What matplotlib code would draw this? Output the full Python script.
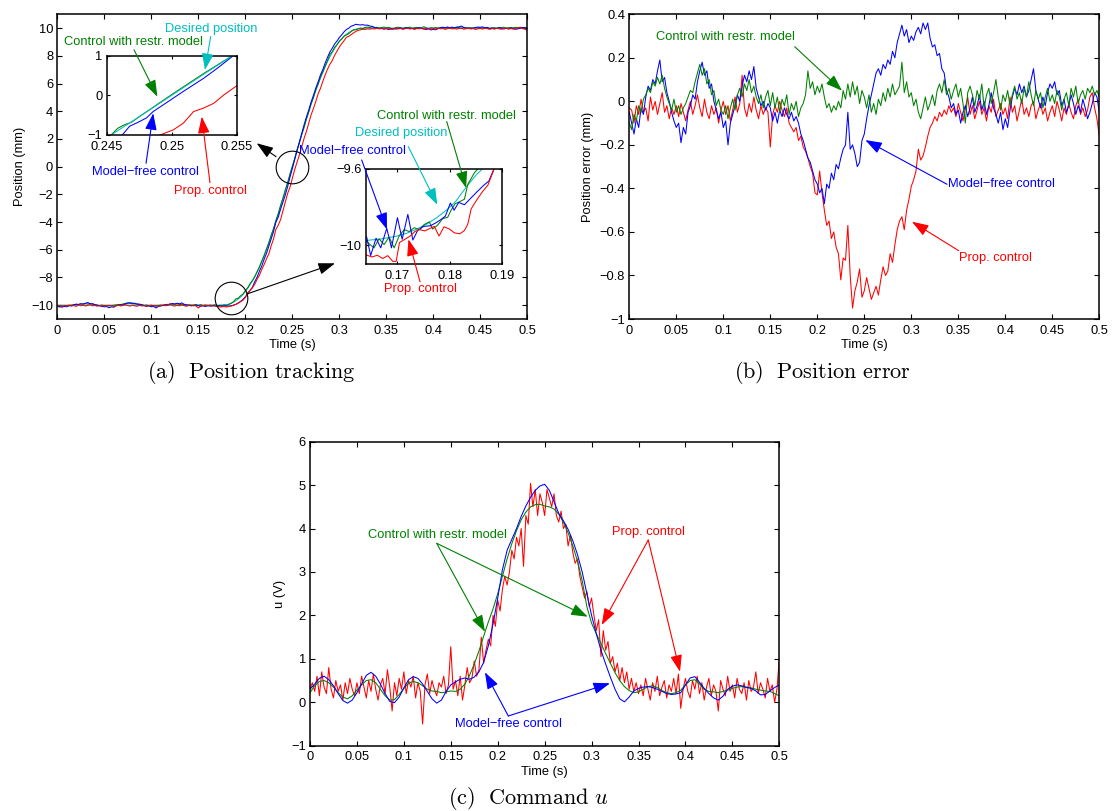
import numpy as np
import matplotlib
matplotlib.use('Agg')
import matplotlib.pyplot as plt
from matplotlib.ticker import FuncFormatter

plt.rcParams['font.family'] = ['Liberation Sans', 'DejaVu Sans']
plt.rcParams['mathtext.fontset'] = 'cm'

BLUE = (0, 0, 1)
GREEN = (0, 0.5, 0)
RED = (1, 0, 0)
CYAN = (0, 0.75, 0.75)
FS = 9.3
MINUS = '\u2212'

# ---- position error (mm), sampled every 2.5 ms from 0 to 0.5 s ----
err_free = [
    -0.05, -0.10, -0.15, -0.08, -0.12, -0.03, -0.06, 0.02, 0.07, 0.05, 0.10, 0.08, 0.14, 0.19, 0.09, 0.11, 0.04, 0.00, -0.05, -0.09,
    -0.12, -0.10, -0.19, -0.12, -0.15, -0.05, -0.02, 0.03, 0.01, 0.09, 0.14, 0.18, 0.12, 0.14, 0.06, 0.08, 0.00, -0.04, -0.08, -0.05,
    -0.12, -0.09, -0.20, -0.10, -0.06, -0.02, 0.03, 0.00, 0.07, 0.12, 0.09, 0.14, 0.10, 0.16, 0.06, 0.02, -0.02, 0.00, -0.04, -0.01,
    -0.03, -0.09, -0.05, -0.10, -0.04, -0.07, -0.03, -0.06, -0.08, -0.05, -0.09, -0.07, -0.10, -0.15, -0.18, -0.22, -0.26, -0.28, -0.32, -0.36,
    -0.38, -0.42, -0.40, -0.47, -0.38, -0.40, -0.33, -0.36, -0.29, -0.31, -0.26, -0.22, -0.20, -0.05, -0.22, -0.20, -0.24, -0.30, -0.28, -0.18,
    -0.15, -0.08, -0.02, 0.03, 0.08, 0.13, 0.15, 0.12, 0.17, 0.15, 0.19, 0.17, 0.23, 0.20, 0.27, 0.31, 0.35, 0.30, 0.33, 0.27,
    0.30, 0.28, 0.32, 0.34, 0.31, 0.36, 0.33, 0.36, 0.29, 0.25, 0.26, 0.21, 0.22, 0.15, 0.13, 0.05, 0.02, -0.03, -0.01, -0.06,
    -0.04, -0.10, -0.05, -0.02, -0.07, -0.03, 0.02, -0.05, -0.02, 0.03, -0.04, 0.00, -0.06, -0.02, 0.04, -0.03, -0.06, -0.10, -0.05, -0.13,
    -0.08, -0.12, -0.04, 0.02, 0.06, 0.03, 0.08, 0.04, 0.07, 0.02, 0.05, 0.10, 0.15, 0.05, 0.01, -0.03, 0.02, -0.02, 0.04, 0.08,
    0.06, 0.09, 0.03, 0.05, -0.02, 0.01, -0.05, -0.02, 0.03, -0.01, -0.06, -0.02, -0.05, 0.01, -0.03, -0.08, -0.05, -0.01, 0.04, 0.02,
    -0.05]
err_prop = [
    -0.03, -0.04, -0.10, -0.02, -0.06, 0.01, -0.05, -0.03, -0.09, 0.02, -0.04, 0.00, -0.06, -0.01, 0.04, -0.05, -0.02, -0.08, -0.03, -0.06,
    -0.02, -0.07, -0.01, -0.05, -0.09, -0.04, 0.00, -0.06, -0.02, 0.03, -0.03, -0.07, 0.01, -0.05, -0.08, -0.02, -0.06, -0.03, -0.10, -0.04,
    0.00, -0.06, -0.02, -0.09, -0.04, 0.02, -0.05, -0.01, 0.12, -0.03, -0.07, -0.01, -0.05, 0.02, -0.04, -0.08, -0.02, -0.06, -0.03, -0.05,
    -0.21, -0.06, -0.02, -0.05, 0.00, -0.04, -0.07, -0.03, -0.10, -0.12, -0.14, -0.12, -0.18, -0.16, -0.21, -0.23, -0.26, -0.30, -0.33, -0.42,
    -0.43, -0.32, -0.42, -0.50, -0.57, -0.55, -0.63, -0.60, -0.67, -0.70, -0.82, -0.72, -0.73, -0.57, -0.80, -0.95, -0.87, -0.83, -0.77, -0.90,
    -0.87, -0.81, -0.86, -0.91, -0.88, -0.85, -0.89, -0.82, -0.76, -0.80, -0.78, -0.70, -0.74, -0.66, -0.59, -0.55, -0.53, -0.59, -0.50, -0.45,
    -0.39, -0.36, -0.32, -0.22, -0.27, -0.25, -0.21, -0.16, -0.12, -0.10, -0.07, -0.09, -0.05, -0.07, -0.04, -0.06, -0.02, -0.05, -0.03, -0.07,
    -0.01, -0.05, -0.09, -0.03, 0.02, -0.06, -0.02, -0.08, -0.04, 0.00, -0.06, -0.03, -0.09, -0.02, -0.05, 0.01, -0.07, -0.04, -0.01, -0.06,
    -0.03, -0.08, 0.02, -0.05, -0.02, -0.09, -0.04, 0.01, -0.06, -0.03, -0.07, -0.02, 0.00, -0.08, -0.04, -0.01, -0.06, -0.03, -0.09, -0.05,
    -0.02, -0.07, 0.00, -0.04, -0.09, -0.03, -0.06, -0.01, -0.05, -0.08, -0.02, 0.01, -0.06, -0.03, -0.07, -0.04, 0.02, 0.04, -0.03, -0.08,
    -0.16]
err_restr = [
    -0.10, -0.13, -0.06, -0.09, -0.02, -0.05, 0.01, 0.03, 0.06, 0.04, 0.09, 0.07, 0.11, 0.08, 0.12, 0.06, 0.02, -0.01, -0.04, 0.01,
    -0.05, -0.02, -0.06, -0.03, -0.01, 0.02, 0.05, 0.04, 0.09, 0.13, 0.17, 0.12, 0.15, 0.08, 0.10, 0.03, 0.05, -0.02, 0.01, -0.04,
    -0.06, -0.02, -0.08, -0.03, 0.01, -0.04, 0.03, 0.06, 0.02, 0.08, 0.05, 0.10, 0.04, 0.07, 0.02, -0.01, 0.03, -0.03, 0.02, 0.05,
    -0.02, 0.04, -0.03, 0.02, -0.05, 0.01, -0.02, 0.03, -0.06, -0.01, -0.04, 0.00, -0.07, -0.03, -0.01, 0.03, 0.14, 0.06, 0.09, 0.03,
    0.07, 0.04, 0.08, 0.02, -0.03, -0.01, -0.05, -0.02, -0.04, 0.00, -0.03, 0.05, 0.01, 0.08, 0.02, 0.09, 0.03, 0.07, -0.01, 0.05,
    0.02, -0.03, 0.03, -0.05, -0.01, -0.06, 0.01, -0.02, 0.04, 0.00, 0.06, 0.02, 0.08, 0.03, 0.05, 0.07, 0.18, 0.04, 0.09, 0.02,
    0.04, -0.02, 0.01, -0.05, -0.08, -0.03, 0.02, -0.04, -0.01, 0.03, -0.02, 0.05, 0.08, 0.04, 0.10, 0.03, 0.06, 0.01, 0.05, 0.08,
    0.02, 0.06, -0.01, -0.10, 0.04, 0.07, 0.03, -0.02, 0.05, 0.01, 0.08, -0.03, 0.03, 0.06, -0.01, 0.04, 0.10, 0.02, -0.04, 0.03,
    0.00, 0.05, -0.02, 0.03, 0.07, 0.01, 0.04, -0.01, 0.06, 0.02, 0.09, 0.03, -0.02, 0.05, 0.01, 0.04, -0.03, 0.02, 0.06, 0.00,
    0.03, -0.01, 0.05, 0.02, -0.04, 0.01, 0.04, -0.02, 0.06, 0.02, 0.07, -0.01, 0.03, 0.05, 0.01, 0.06, 0.04, 0.07, 0.03, 0.05,
    0.02]

# desired position (mm) on the same 2.5 ms grid
desired = ([-10.0] * 69 +
           [-10.0, -9.99, -9.98, -9.96, -9.92, -9.86, -9.78, -9.68, -9.56, -9.41,
            -9.23, -9.02, -8.79, -8.53, -8.25, -7.93, -7.59, -7.22, -6.82, -6.40,
            -5.96, -5.49, -5.00, -4.50, -3.97, -3.43, -2.88, -2.32, -1.75, -1.17,
            -0.59, 0.00, 0.59, 1.17, 1.75, 2.32, 2.88, 3.43, 3.97, 4.50,
            5.00, 5.49, 5.96, 6.40, 6.82, 7.22, 7.59, 7.93, 8.25, 8.53,
            8.79, 9.02, 9.23, 9.41, 9.56, 9.68, 9.78, 9.86, 9.92, 9.96,
            9.98, 9.99] +
           [10.0] * 70)

# ---- zoom windows of panel (a) ----
z1_t_des = [0.24534, 0.2475, 0.2500, 0.2525, 0.25467]
z1_v_des = [-1.00, -0.54, 0.00, 0.54, 1.00]
z1_t_restr = [0.24534, 0.24585, 0.24638, 0.2469, 0.2475, 0.2500, 0.2525, 0.25467]
z1_v_restr = [-1.00, -0.83, -0.74, -0.68, -0.54, 0.02, 0.56, 1.00]
z1_t_free = [0.2462, 0.24676, 0.24741, 0.24806, 0.24857, 0.24935, 0.2509, 0.25246, 0.2535, 0.25474]
z1_v_free = [-1.00, -0.78, -0.68, -0.57, -0.41, -0.24, 0.10, 0.43, 0.68, 1.00]
z1_t_prop = [0.2491, 0.25013, 0.2509, 0.25168, 0.25246, 0.25324, 0.25401, 0.2550]
z1_v_prop = [-1.00, -0.87, -0.70, -0.41, -0.32, -0.20, 0.01, 0.24]

z2_t_des = [0.1640, 0.1667, 0.1699, 0.1718, 0.1737, 0.1756, 0.1775, 0.1795, 0.1811, 0.1827, 0.1839, 0.1852, 0.1862]
z2_v_des = [-9.976, -9.969, -9.953, -9.938, -9.916, -9.890, -9.856, -9.813, -9.771, -9.711, -9.668, -9.626, -9.600]
z2_t_free = [0.16413, 0.16489, 0.16592, 0.16681, 0.16796, 0.16886, 0.17000, 0.17090, 0.17198, 0.17294,
             0.17384, 0.17499, 0.17626, 0.17722, 0.17818, 0.17914, 0.18010, 0.18080, 0.18169, 0.18278,
             0.18380, 0.18521, 0.18649, 0.18744, 0.18840]
z2_v_free = [-9.958, -10.056, -9.964, -10.015, -9.912, -10.015, -9.856, -9.970, -9.839, -9.974,
             -9.924, -9.902, -9.899, -9.885, -9.868, -9.848, -9.779, -9.817, -9.776, -9.788,
             -9.759, -9.719, -9.685, -9.663, -9.600]
z2_t_restr = [0.16400, 0.16477, 0.16553, 0.16649, 0.16745, 0.16841, 0.16937, 0.17032, 0.17128, 0.17224,
              0.17320, 0.17416, 0.17512, 0.17607, 0.17671, 0.17767, 0.17863, 0.17959, 0.18023, 0.18099,
              0.18189, 0.18278, 0.18342, 0.18406, 0.18470, 0.18534]
z2_v_restr = [-9.976, -9.998, -10.015, -9.967, -9.998, -9.958, -10.015, -9.953, -9.919, -9.929,
              -9.909, -9.919, -9.892, -9.878, -9.916, -9.895, -9.861, -9.854, -9.817, -9.783,
              -9.772, -9.759, -9.680, -9.650, -9.619, -9.600]
z2_t_prop = [0.16400, 0.16515, 0.16617, 0.16719, 0.16815, 0.16911, 0.16975, 0.17039, 0.17141, 0.17243,
             0.17333, 0.17422, 0.17524, 0.17626, 0.17703, 0.17793, 0.17888, 0.17991, 0.18086, 0.18189,
             0.18278, 0.18342, 0.18406, 0.18521, 0.18623, 0.18725, 0.18840]
z2_v_prop = [-10.052, -10.063, -10.054, -10.071, -10.056, -10.086, -10.086, -9.987, -9.970, -9.953,
             -9.929, -9.919, -9.926, -9.912, -9.902, -9.953, -9.904, -9.916, -9.936, -9.941,
             -9.924, -9.890, -9.810, -9.759, -9.719, -9.685, -9.603]

# ---- command u (V) ----
u_prop = [  # every 2.5 ms
    0.30, 0.45, 0.25, 0.60, 0.15, 0.70, 0.35, 0.20, 0.80, 0.30, 0.10, 0.50, 0.25, 0.40, 0.05, 0.45, 0.20, 0.55, 0.30, 0.15,
    0.45, 0.20, 0.60, 0.35, 0.10, 0.50, 0.25, 0.65, 0.30, 0.05, 0.40, 0.55, 0.20, 0.75, 0.35, -0.20, 0.45, 0.15, 0.55, 0.30,
    0.70, 0.20, 0.50, 0.35, 0.60, 0.10, 0.45, 0.25, -0.50, 0.40, 0.65, 0.20, 0.50, 0.30, 0.15, 0.45, 0.35, 0.60, 0.20, 0.40,
    1.28, 0.30, 0.50, 0.15, 0.60, 0.05, 0.40, 0.80, 0.45, 0.55, 0.95, 0.60, 0.75, 1.50, 0.90, 1.20, 1.45, 1.30, 2.00, 1.75,
    2.35, 2.10, 2.60, 2.90, 2.70, 3.00, 3.50, 3.30, 3.80, 3.60, 4.00, 3.13, 4.30, 4.10, 5.04, 4.50, 4.90, 4.30, 4.80, 4.60,
    4.30, 4.90, 4.70, 4.50, 4.80, 4.30, 4.15, 4.40, 4.00, 4.10, 3.60, 3.85, 3.45, 3.20, 3.30, 2.90, 2.65, 2.40, 2.55, 2.20,
    2.40, 2.00, 1.65, 1.90, 1.05, 1.65, 1.20, 1.40, 0.90, 1.05, 0.70, 0.90, 0.50, 0.80, 0.45, 0.70, 0.30, 0.55, 0.25, 0.45,
    0.20, 0.40, 0.15, 0.55, 0.30, 0.05, 0.45, 0.25, 0.60, 0.15, 0.35, 0.50, 0.10, 0.40, 0.25, 0.55, 0.20, 0.65, -0.14, 0.30,
    0.55, 0.25, 0.10, 0.50, 0.30, 0.60, 0.20, 0.45, 0.05, 0.35, 0.55, 0.15, 0.40, 0.25, -0.20, 0.50, 0.30, 0.15, 0.60, 0.25,
    0.40, 0.10, 0.55, 0.30, 0.20, 0.45, 0.05, 0.50, 0.25, 0.35, 0.70, 0.20, 0.45, 0.30, 0.10, 0.55, 0.25, 0.40, 0.00, 0.30,
    1.00]
u_free = [  # every 5 ms
    0.30, 0.42, 0.55, 0.60, 0.52, 0.38, 0.20, 0.04, -0.02, 0.05,
    0.22, 0.42, 0.62, 0.69, 0.60, 0.42, 0.20, 0.02, -0.01, 0.12,
    0.33, 0.52, 0.59, 0.55, 0.42, 0.25, 0.08, -0.02, 0.05, 0.25,
    0.40, 0.47, 0.53, 0.56, 0.53, 0.58, 0.70, 0.92, 1.30, 1.80,
    2.40, 3.05, 3.50, 3.75, 4.00, 4.28, 4.52, 4.72, 4.88, 4.98,
    5.02, 4.88, 4.62, 4.35, 4.18, 3.98, 3.72, 3.40, 3.00, 2.50,
    2.00, 1.58, 1.20, 0.88, 0.58, 0.30, 0.08, 0.01, 0.12, 0.26,
    0.32, 0.35, 0.36, 0.34, 0.30, 0.25, 0.20, 0.18, 0.19, 0.22,
    0.40, 0.56, 0.59, 0.46, 0.32, 0.20, 0.10, 0.05, 0.14, 0.30,
    0.37, 0.40, 0.38, 0.34, 0.32, 0.26, 0.17, 0.18, 0.26, 0.34,
    0.40]
u_restr = [  # every 5 ms
    0.22, 0.38, 0.48, 0.50, 0.45, 0.35, 0.22, 0.12, 0.08, 0.15,
    0.28, 0.40, 0.50, 0.52, 0.45, 0.30, 0.15, 0.05, 0.06, 0.18,
    0.32, 0.44, 0.48, 0.45, 0.38, 0.30, 0.26, 0.25, 0.22, 0.24,
    0.26, 0.25, 0.30, 0.42, 0.62, 0.88, 1.18, 1.52, 1.85, 2.15,
    2.50, 2.90, 3.30, 3.65, 3.95, 4.20, 4.38, 4.50, 4.55, 4.56,
    4.52, 4.50, 4.45, 4.33, 4.15, 3.90, 3.60, 3.25, 2.80, 2.20,
    1.82, 1.58, 1.36, 1.12, 0.90, 0.68, 0.50, 0.36, 0.27, 0.22,
    0.24, 0.30, 0.36, 0.38, 0.34, 0.27, 0.22, 0.20, 0.22, 0.28,
    0.40, 0.50, 0.52, 0.42, 0.30, 0.25, 0.24, 0.22, 0.25, 0.28,
    0.32, 0.35, 0.36, 0.35, 0.33, 0.30, 0.28, 0.26, 0.25, 0.20,
    0.15]

t_fine = np.linspace(0, 0.5, len(err_free))
t_coarse = np.linspace(0, 0.5, len(u_free))
des = np.array(desired)
pos_free = des + np.array(err_free)
pos_prop = des + np.array(err_prop)
pos_restr = des + np.array(err_restr)

W, H = 1116, 811
fig = plt.figure(figsize=(W / 100, H / 100), dpi=100)


def axes_px(x0, y0, x1, y1):
    return fig.add_axes([x0 / W, 1 - y1 / H, (x1 - x0) / W, (y1 - y0) / H])


def tick_fmt(v, pos):
    s = '%g' % round(v, 6)
    if s == '-0':
        s = '0'
    return s.replace('-', MINUS)


def style(ax, xt, yt, length=3.5):
    ax.set_xticks(xt)
    ax.set_yticks(yt)
    ax.xaxis.set_major_formatter(FuncFormatter(tick_fmt))
    ax.yaxis.set_major_formatter(FuncFormatter(tick_fmt))
    ax.tick_params(direction='in', top=True, right=True, length=length, width=0.8,
                   labelsize=FS, colors='black')
    ax.tick_params(axis='x', pad=4)
    ax.tick_params(axis='y', pad=3)
    for s in ax.spines.values():
        s.set_linewidth(1.1)


AP = dict(arrowstyle='-|>,head_length=0.85,head_width=0.3', lw=0.8,
          shrinkA=0, shrinkB=0, mutation_scale=12)


def arrow(ax, tail, head, color, head_ax=None):
    tgt = head_ax if head_ax is not None else ax
    ax.annotate('', xy=head, xycoords=tgt.transData, xytext=tail, textcoords='data',
                arrowprops=dict(AP, color=color), zorder=6, annotation_clip=False)


def label(ax, xy, s, color):
    ax.text(xy[0], xy[1], s, color=color, fontsize=FS, ha='center', va='center', zorder=6)


xt = np.arange(0, 0.501, 0.05)
LW = 0.75

# ---------------- (a) position tracking ----------------
ax_a = axes_px(57.3, 14.3, 527.3, 319)
ax_a.plot(t_fine, des, color=CYAN, lw=LW)
ax_a.plot(t_fine, pos_restr, color=GREEN, lw=LW)
ax_a.plot(t_fine, pos_free, color=BLUE, lw=LW)
ax_a.plot(t_fine, pos_prop, color=RED, lw=LW)
ax_a.set_xlim(0, 0.5)
ax_a.set_ylim(-11, 11)
style(ax_a, xt, np.arange(-10, 10.1, 2))
ax_a.set_xlabel('Time (s)', fontsize=FS, labelpad=2)
ax_a.set_ylabel('Position (mm)', fontsize=FS, labelpad=4)
ax_a.plot([0.25], [0], 'o', ms=23.5, mfc='none', mec='black', mew=0.8)
ax_a.plot([0.1845], [-9.47], 'o', ms=23.5, mfc='none', mec='black', mew=0.8)
arrow(ax_a, (0.2327, 0.72), (0.2121, 1.69), 'black')
arrow(ax_a, (0.2015, -9.20), (0.2954, -6.98), 'black')

in1 = ax_a.inset_axes([0.1051, 0.6039, 0.2766, 0.2603])
in1.plot(z1_t_restr, z1_v_restr, color=GREEN, lw=LW)
in1.plot(z1_t_free, z1_v_free, color=BLUE, lw=LW)
in1.plot(z1_t_prop, z1_v_prop, color=RED, lw=LW)
in1.plot(z1_t_des, z1_v_des, color=CYAN, lw=LW)
in1.set_xlim(0.245, 0.255)
in1.set_ylim(-1, 1)
style(in1, [0.245, 0.25, 0.255], [-1, 0, 1], length=2.5)

in2 = ax_a.inset_axes([0.6568, 0.1805, 0.29, 0.3118])
in2.plot(z2_t_des, z2_v_des, color=CYAN, lw=LW)
in2.plot(z2_t_restr, z2_v_restr, color=GREEN, lw=LW)
in2.plot(z2_t_free, z2_v_free, color=BLUE, lw=LW)
in2.plot(z2_t_prop, z2_v_prop, color=RED, lw=LW)
in2.set_xlim(0.164, 0.19)
in2.set_ylim(-10.1, -9.6)
style(in2, [0.17, 0.18, 0.19], [-10, -9.6], length=2.5)

label(ax_a, (0.1633, 9.93), 'Desired position', CYAN)
arrow(ax_a, (0.1632, 9.40), (0.25256, 0.64), CYAN, in1)
label(ax_a, (0.0805, 8.97), 'Control with restr. model', GREEN)
arrow(ax_a, (0.0816, 8.44), (0.2489, -0.034), GREEN, in1)
label(ax_a, (0.0934, -0.36), 'Model' + MINUS + 'free control', BLUE)
arrow(ax_a, (0.0944, 0.246), (0.24858, -0.453), BLUE, in1)
label(ax_a, (0.1632, -1.735), 'Prop. control', RED)
arrow(ax_a, (0.1624, -1.157), (0.25231, -0.538), RED, in1)

label(ax_a, (0.4135, 3.69), 'Control with restr. model', GREEN)
arrow(ax_a, (0.4143, 3.254), (0.1831, -9.70), GREEN, in2)
label(ax_a, (0.3657, 2.46), 'Desired position', CYAN)
arrow(ax_a, (0.3734, 1.446), (0.1776, -9.788), CYAN, in2)
label(ax_a, (0.3143, 1.16), 'Model' + MINUS + 'free control', BLUE)
arrow(ax_a, (0.3238, 0.484), (0.1680, -9.918), BLUE, in2)
label(ax_a, (0.3859, -8.86), 'Prop. control', RED)
arrow(ax_a, (0.3859, -8.315), (0.1721, -9.97), RED, in2)

# ---------------- (b) position error ----------------
ax_b = axes_px(629.3, 14.3, 1099.3, 319)
ax_b.plot(t_fine, err_prop, color=RED, lw=LW)
ax_b.plot(t_fine, err_free, color=BLUE, lw=LW)
ax_b.plot(t_fine, err_restr, color=GREEN, lw=LW)
ax_b.set_xlim(0, 0.5)
ax_b.set_ylim(-1, 0.4)
style(ax_b, xt, np.arange(-1, 0.41, 0.2))
ax_b.set_xlabel('Time (s)', fontsize=FS, labelpad=2)
ax_b.set_ylabel('Position error (mm)', fontsize=FS, labelpad=4)
label(ax_b, (0.1021, 0.294), 'Control with restr. model', GREEN)
arrow(ax_b, (0.176, 0.251), (0.2263, 0.049), GREEN)
label(ax_b, (0.3957, -0.381), 'Model' + MINUS + 'free control', BLUE)
arrow(ax_b, (0.338, -0.381), (0.2511, -0.178), BLUE)
label(ax_b, (0.3899, -0.721), 'Prop. control', RED)
arrow(ax_b, (0.3504, -0.686), (0.3007, -0.553), RED)

# ---------------- (c) command u ----------------
ax_c = axes_px(310, 441.7, 779.3, 745.7)
ax_c.plot(t_fine, u_prop, color=RED, lw=LW)
ax_c.plot(t_coarse, u_restr, color=GREEN, lw=LW)
ax_c.plot(t_coarse, u_free, color=BLUE, lw=LW)
ax_c.set_xlim(0, 0.5)
ax_c.set_ylim(-1, 6)
style(ax_c, xt, np.arange(-1, 6.1, 1))
ax_c.set_xlabel('Time (s)', fontsize=FS, labelpad=2)
ax_c.set_ylabel('u (V)', fontsize=FS, labelpad=4)
label(ax_c, (0.1358, 3.845), 'Control with restr. model', GREEN)
arrow(ax_c, (0.1350, 3.66), (0.1864, 1.625), GREEN)
arrow(ax_c, (0.1350, 3.66), (0.2959, 1.97), GREEN)
label(ax_c, (0.3604, 3.914), 'Prop. control', RED)
arrow(ax_c, (0.3604, 3.737), (0.3108, 1.78), RED)
arrow(ax_c, (0.3604, 3.737), (0.3942, 0.704), RED)
label(ax_c, (0.2110, -0.507), 'Model' + MINUS + 'free control', BLUE)
arrow(ax_c, (0.2113, -0.316), (0.1864, 0.69), BLUE)
arrow(ax_c, (0.2113, -0.316), (0.3196, 0.437), BLUE)

# sub-captions
fig.text(250.8 / W, 1 - 372.7 / H, r'$\mathrm{(a)\ \ Position\ tracking}$',
         ha='center', va='center', fontsize=16)
fig.text(822.7 / W, 1 - 372.7 / H, r'$\mathrm{(b)\ \ Position\ error}$',
         ha='center', va='center', fontsize=16)
fig.text(528.8 / W, 1 - 798.3 / H, r'$\mathrm{(c)\ \ Command\ }u$',
         ha='center', va='center', fontsize=16)

fig.savefig('out.png', dpi=100)
